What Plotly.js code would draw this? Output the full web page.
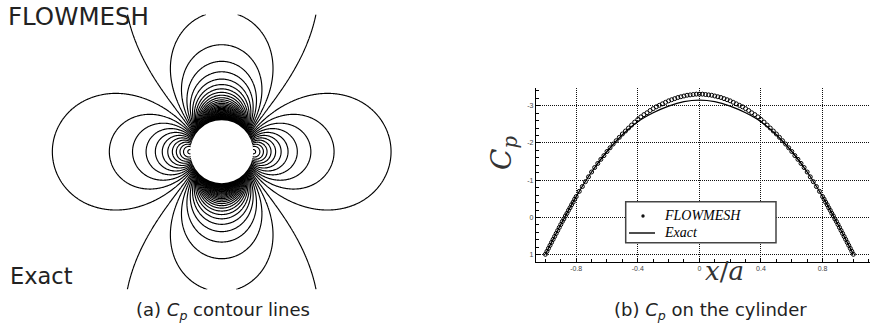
<!DOCTYPE html>
<html>
<head>
<meta charset="utf-8">
<script src="https://cdn.plot.ly/plotly-3.0.1.min.js"></script>
<style>
  html, body { margin: 0; padding: 0; background: #fff; overflow: hidden; }
  #chart { width: 870px; height: 333px; }
</style>
</head>
<body>
<div id="chart"></div>
<script>
// Cp along the cylinder surface (x/a from -1 to 1), analytic curve
const exactX  = [-1.0, -0.95, -0.9, -0.8, -0.7, -0.6, -0.5, -0.4, -0.3, -0.2, -0.1, 0.0,
                 0.1, 0.2, 0.3, 0.4, 0.5, 0.6, 0.7, 0.8, 0.9, 0.95, 1.0];
const exactCp = [0.99, 0.59, 0.19, -0.56, -1.22, -1.77, -2.22, -2.57, -2.81, -2.99, -3.11, -3.15,
                 -3.11, -2.99, -2.81, -2.57, -2.22, -1.77, -1.22, -0.56, 0.19, 0.59, 0.99];

// Cp along the cylinder surface, FLOWMESH solution points
const flowmeshX = [
  -1.00, -0.99, -0.98, -0.97, -0.96, -0.95, -0.94, -0.93, -0.92, -0.91, -0.90, -0.89, -0.88, -0.87, -0.86, -0.85,
  -0.84, -0.83, -0.82, -0.81, -0.80, -0.78, -0.76, -0.74, -0.72, -0.70, -0.68, -0.66, -0.64, -0.62, -0.60, -0.58,
  -0.56, -0.54, -0.52, -0.50, -0.48, -0.46, -0.44, -0.42, -0.40, -0.38, -0.36, -0.34, -0.32, -0.30, -0.28, -0.26,
  -0.24, -0.22, -0.20, -0.18, -0.16, -0.14, -0.12, -0.10, -0.08, -0.06, -0.04, -0.02,
  0.00, 0.02, 0.04, 0.06, 0.08, 0.10, 0.12, 0.14, 0.16, 0.18, 0.20, 0.22, 0.24, 0.26, 0.28, 0.30,
  0.32, 0.34, 0.36, 0.38, 0.40, 0.42, 0.44, 0.46, 0.48, 0.50, 0.52, 0.54, 0.56, 0.58, 0.60, 0.62,
  0.64, 0.66, 0.68, 0.70, 0.72, 0.74, 0.76, 0.78, 0.80, 0.81, 0.82, 0.83, 0.84, 0.85, 0.86, 0.87,
  0.88, 0.89, 0.90, 0.91, 0.92, 0.93, 0.94, 0.95, 0.96, 0.97, 0.98, 0.99, 1.00
];
const flowmeshCp = [
  0.99, 0.91, 0.83, 0.75, 0.67, 0.59, 0.51, 0.43, 0.35, 0.27, 0.19, 0.11, 0.04, -0.04, -0.11, -0.19,
  -0.26, -0.34, -0.41, -0.49, -0.56, -0.70, -0.83, -0.96, -1.09, -1.22, -1.34, -1.45, -1.56, -1.66, -1.77, -1.87,
  -1.97, -2.06, -2.15, -2.24, -2.32, -2.40, -2.48, -2.56, -2.63, -2.70, -2.76, -2.81, -2.87, -2.92, -2.97, -3.01,
  -3.05, -3.09, -3.13, -3.16, -3.19, -3.22, -3.24, -3.26, -3.28, -3.29, -3.30, -3.31,
  -3.31, -3.31, -3.30, -3.29, -3.28, -3.26, -3.24, -3.22, -3.19, -3.16, -3.13, -3.09, -3.05, -3.01, -2.97, -2.92,
  -2.87, -2.81, -2.76, -2.70, -2.63, -2.56, -2.48, -2.40, -2.32, -2.24, -2.15, -2.06, -1.97, -1.87, -1.77, -1.66,
  -1.56, -1.45, -1.34, -1.22, -1.09, -0.96, -0.83, -0.70, -0.56, -0.49, -0.41, -0.34, -0.26, -0.19, -0.11, -0.04,
  0.04, 0.11, 0.19, 0.27, 0.35, 0.43, 0.51, 0.59, 0.67, 0.75, 0.83, 0.91, 0.99
];

const seriesNames = ['FLOWMESH', 'Exact'];
const xTickVals = [-0.8, -0.4, 0, 0.4, 0.8];
const xTickText = ['-0.8', '-0.4', '0', '0.4', '0.8'];
const yTickVals = [-3, -2, -1, 0, 1];
const yTickText = ['-3', '-2', '-1', '0', '1'];

// Cp contour levels of the field plot (suction side and stagnation side)
const suctionLevels = { start: -3.03, end: -0.027, size: 0.077 };
const stagnationLevels = { start: 0.068, end: 0.99, size: 0.083 };

// Field window, in cylinder radii
const fieldX = [-6, 6];
const fieldY = [-4.37, 4.37];
const gridStep = 0.025;

// Potential flow past a circular cylinder of unit radius
function pressureCoefficient(x, y) {
  const r2 = x * x + y * y;
  if (r2 < 0.36) return -20;
  return (2 * (x * x - y * y) - 1) / (r2 * r2);
}

const gx = [], gy = [];
for (let i = 0; fieldX[0] + i * gridStep <= fieldX[1] + 1e-9; i++) gx.push(+(fieldX[0] + i * gridStep).toFixed(4));
for (let j = 0; fieldY[0] + j * gridStep <= fieldY[1] + 1e-9; j++) gy.push(+(fieldY[0] + j * gridStep).toFixed(4));
const gz = gy.map(y => gx.map(x => pressureCoefficient(x, y)));

const W = 870, H = 333;
const px = v => v / W;
const py = v => 1 - v / H;

function contourLines(levels) {
  return {
    type: 'contour', x: gx, y: gy, z: gz,
    xaxis: 'x2', yaxis: 'y2',
    contours: { coloring: 'lines', start: levels.start, end: levels.end, size: levels.size, showlabels: false },
    line: { width: 1.15, smoothing: 0.6 },
    colorscale: [[0, '#000'], [1, '#000']],
    showscale: false, showlegend: false, hoverinfo: 'skip'
  };
}

const flowmeshTrace = {
  type: 'scatter', mode: 'markers', name: seriesNames[0],
  x: flowmeshX, y: flowmeshCp, xaxis: 'x', yaxis: 'y',
  marker: { symbol: 'circle-open', size: 4, color: '#000', line: { width: 1, color: '#000' } },
  showlegend: false, hoverinfo: 'skip'
};

const exactTrace = {
  type: 'scatter', mode: 'lines', name: seriesNames[1],
  x: exactX, y: exactCp, xaxis: 'x', yaxis: 'y',
  line: { color: '#000', width: 1.3, shape: 'spline', smoothing: 0.8 },
  showlegend: false, hoverinfo: 'skip'
};

const tickFont = { family: 'Liberation Sans, Arial, sans-serif', size: 7, color: '#444' };
const gridStyle = { showgrid: true, gridcolor: '#111', griddash: '1px,1px', gridwidth: 1 };
const legendFont = { family: 'Liberation Serif, Times New Roman, serif', size: 14, style: 'italic', color: '#000' };
const labelFont = { family: 'DejaVu Sans, sans-serif', size: 24, color: '#222' };
const captionFont = { family: 'DejaVu Sans, sans-serif', size: 18, color: '#222' };

const layout = {
  width: W, height: H,
  margin: { l: 0, r: 0, t: 0, b: 0 },
  paper_bgcolor: '#fff', plot_bgcolor: 'rgba(0,0,0,0)',
  showlegend: false,
  xaxis: Object.assign({
    domain: [px(536), 1], range: [-1.061, 1.108],
    tickvals: xTickVals, ticktext: xTickText, tickfont: tickFont,
    ticks: 'inside', ticklen: 4, tickcolor: '#000', tickwidth: 1,
    minor: { dtick: 0.1, ticks: 'inside', ticklen: 2.5, tickcolor: '#000', showgrid: false },
    showline: true, linecolor: '#000', linewidth: 1.2, mirror: false,
    zeroline: false, fixedrange: true
  }, gridStyle),
  yaxis: Object.assign({
    domain: [py(261.7), py(88)], range: [1.188, -3.475],
    tickvals: yTickVals, ticktext: yTickText, tickfont: tickFont,
    ticks: 'inside', ticklen: 4, tickcolor: '#000', tickwidth: 1,
    minor: { dtick: 0.2, ticks: 'inside', ticklen: 2.5, tickcolor: '#000', showgrid: false },
    showline: true, linecolor: '#000', linewidth: 1.2, mirror: false,
    zeroline: false, fixedrange: true
  }, gridStyle),
  xaxis2: { domain: [px(32.7), px(410.7)], range: fieldX, anchor: 'y2', visible: false, fixedrange: true },
  yaxis2: { domain: [py(289.4), py(14)], range: fieldY, anchor: 'x2', visible: false, fixedrange: true },
  shapes: [
    // cylinder body
    { type: 'circle', xref: 'x2', yref: 'y2', x0: -1, x1: 1, y0: -1, y1: 1,
      fillcolor: '#fff', line: { width: 0 }, layer: 'above' },
    // legend box with its two keys
    { type: 'rect', xref: 'paper', yref: 'paper', x0: px(625.7), x1: px(776), y0: py(242.7), y1: py(201.7),
      fillcolor: '#fff', line: { color: '#444', width: 1.5 }, layer: 'above' },
    { type: 'circle', xref: 'paper', yref: 'paper', x0: px(641.3), x1: px(644.7), y0: py(217.7), y1: py(214.3),
      fillcolor: '#111', line: { width: 0 }, layer: 'above' },
    { type: 'line', xref: 'paper', yref: 'paper', x0: px(629), x1: px(655), y0: py(233), y1: py(233),
      line: { color: '#000', width: 1.4 }, layer: 'above' }
  ],
  annotations: [
    { text: seriesNames[0], xref: 'paper', yref: 'paper', x: px(662), y: py(215.5), xanchor: 'left', yanchor: 'middle',
      showarrow: false, font: legendFont },
    { text: seriesNames[1], xref: 'paper', yref: 'paper', x: px(662), y: py(232.5), xanchor: 'left', yanchor: 'middle',
      showarrow: false, font: legendFont },
    { text: 'FLOWMESH', xref: 'paper', yref: 'paper', x: px(6), y: py(16), xanchor: 'left', yanchor: 'middle',
      showarrow: false, font: Object.assign({}, labelFont, { size: 24.5 }) },
    { text: 'Exact', xref: 'paper', yref: 'paper', x: px(8), y: py(276), xanchor: 'left', yanchor: 'middle',
      showarrow: false, font: Object.assign({}, labelFont, { size: 22.5 }) },
    { text: '(a) <i>C<sub>p</sub></i> contour lines', xref: 'paper', yref: 'paper', x: px(223), y: py(311),
      xanchor: 'center', yanchor: 'middle', showarrow: false, font: captionFont },
    { text: '(b) <i>C<sub>p</sub></i> on the cylinder', xref: 'paper', yref: 'paper', x: px(710), y: py(311),
      xanchor: 'center', yanchor: 'middle', showarrow: false, font: captionFont },
    { text: '<i>C<sub>p</sub></i>', xref: 'paper', yref: 'paper', x: px(503), y: py(153), textangle: -90,
      xanchor: 'center', yanchor: 'middle', showarrow: false,
      font: { family: 'DejaVu Serif, serif', size: 28, color: '#333' } },
    { text: '<i>x</i>/<i>a</i>', xref: 'paper', yref: 'paper', x: px(724), y: py(271),
      xanchor: 'center', yanchor: 'middle', showarrow: false,
      font: { family: 'DejaVu Serif, serif', size: 26, color: '#333' } }
  ]
};

Plotly.newPlot('chart', [contourLines(suctionLevels), contourLines(stagnationLevels), flowmeshTrace, exactTrace], layout,
  { staticPlot: true, displayModeBar: false });
</script>
</body>
</html>
